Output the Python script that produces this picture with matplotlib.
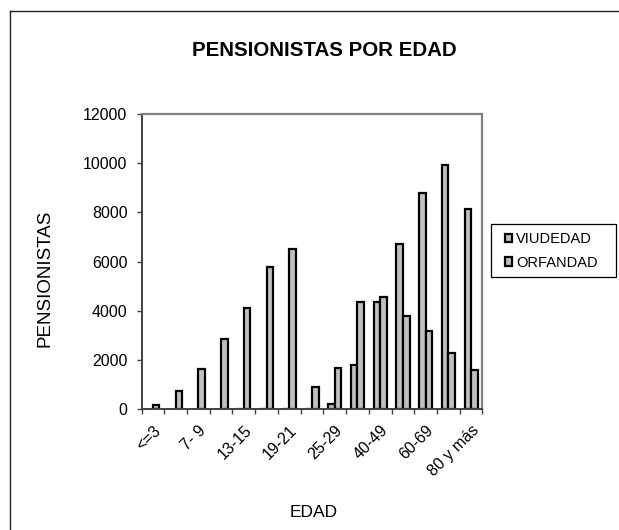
import matplotlib
matplotlib.use('Agg')
import matplotlib.pyplot as plt
from matplotlib.patches import Rectangle, Patch
import numpy as np

# data
edades = ['<=3', '4-6', '7- 9', '10-12', '13-15', '16-18', '19-21', '22-24',
          '25-29', '30-39', '40-49', '50-59', '60-69', '70-79', '80 y más']
viudedad = [0, 0, 0, 0, 20, 20, 20, 20, 200, 1780, 4350, 6720, 8780, 9910, 8140]
orfandad = [150, 720, 1640, 2840, 4100, 5770, 6500, 900, 1680, 4350, 4570, 3800, 3160, 2280, 1600]
series = ['VIUDEDAD', 'ORFANDAD']
yticks = [0, 2000, 4000, 6000, 8000, 10000, 12000]

plt.rcParams['font.family'] = ['Liberation Sans', 'DejaVu Sans']

fig = plt.figure(figsize=(6.19, 5.30), dpi=100)
W, H = 619, 530

def fx(px):
    return px / W

def fy(py):
    return 1 - py / H

# outer chart frame (cut off at right/bottom like the original)
fig.add_artist(plt.Line2D([fx(9.5), fx(9.5)], [0, fy(11)], color='#202020', lw=1.0))
fig.add_artist(plt.Line2D([fx(9.5), 1], [fy(11), fy(11)], color='#202020', lw=1.0))

ax = fig.add_axes([fx(141.5), fy(409), fx(482.5 - 141.5), (409 - 114) / H])

x = np.arange(len(edades))
w = 0.29
fill = '#c0c0c0'
b1 = ax.bar(x - w / 2, viudedad, w, color=fill, edgecolor='black', linewidth=1.6)
b2 = ax.bar(x + w / 2, orfandad, w, color=fill, edgecolor='black', linewidth=1.6)
# excel draws nothing for a zero value
for p in list(b1) + list(b2):
    if p.get_height() == 0:
        p.set_linewidth(0)

ax.set_xlim(-0.5, len(edades) - 0.5)
ax.set_ylim(0, 12000)
ax.set_yticks(yticks)
ax.set_yticklabels([str(v) for v in yticks], fontsize=11.5)

ax.set_xticks(x[::2])
ax.set_xticklabels(edades[::2], rotation=45, ha='right', va='top',
                   rotation_mode='anchor', fontsize=11.5)
ax.tick_params(axis='x', which='major', length=0, pad=10)
ax.set_xticks(np.arange(len(edades) + 1) - 0.5, minor=True)
ax.tick_params(axis='x', which='minor', length=3.6, width=1.0, direction='out', color='#404040')
ax.tick_params(axis='y', length=3.6, width=1.0, direction='out', pad=6.5, color='#404040')

for s in ['top', 'right']:
    ax.spines[s].set_color('#808080')
    ax.spines[s].set_linewidth(1.6)
for s in ['left', 'bottom']:
    ax.spines[s].set_color('#404040')
    ax.spines[s].set_linewidth(1.4)

fig.text(fx(324), fy(56), 'PENSIONISTAS POR EDAD', fontsize=14.8, fontweight='bold',
         ha='center', va='baseline')
fig.text(fx(45), fy(210), 'PENSIONISTAS', fontsize=13.5, rotation=90,
         ha='center', va='top')
fig.text(fx(314), fy(517), 'EDAD', fontsize=12.5, ha='center', va='baseline')

# legend box drawn separately to match its padding
fig.add_artist(Rectangle((fx(491), fy(277)), fx(616 - 491), (277 - 224) / H,
                         transform=fig.transFigure, fill=False, edgecolor='black', lw=0.9))
handles = [Patch(facecolor=fill, edgecolor='black', linewidth=1.6, label=s) for s in series]
leg = ax.legend(handles=handles, loc='center left', bbox_to_anchor=(fx(505), fy(251)),
                bbox_transform=fig.transFigure, fontsize=10.5, frameon=False,
                handlelength=0.5, handleheight=0.5, handletextpad=0.25,
                borderpad=0, labelspacing=0.65, borderaxespad=0)

plt.savefig('out.png', dpi=100)
